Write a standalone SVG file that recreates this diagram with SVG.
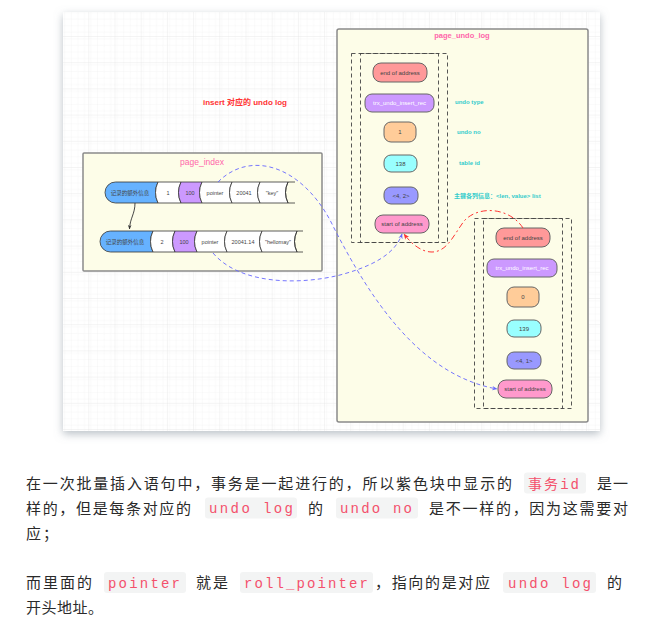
<svg xmlns="http://www.w3.org/2000/svg" width="665" height="623" viewBox="0 0 665 623">
<style>
.sans{font-family:"Liberation Sans","Noto Sans CJK SC",sans-serif}
.nd{stroke:#666;stroke-width:1}
.nt{font-family:"Liberation Sans","Noto Sans CJK SC",sans-serif;font-size:6px;text-anchor:middle;dominant-baseline:central;fill:#444}
.wt{fill:#fff}
.lbl{font-family:"Liberation Sans","Noto Sans CJK SC",sans-serif;font-size:6px;font-weight:bold;fill:#33cccc;dominant-baseline:central}
.cell{fill:#fff;stroke:#333;stroke-width:0.8}
.ct{font-family:"Liberation Sans","Noto Sans CJK SC",sans-serif;font-size:5.5px;text-anchor:middle;dominant-baseline:central;fill:#444}
.dash{fill:none;stroke:#444;stroke-width:0.9;stroke-dasharray:4 3}
.body{font-family:"Noto Sans CJK SC","Liberation Sans",sans-serif;font-size:15px;fill:#2a2a2a}
.code{font-family:"Liberation Mono","DejaVu Sans Mono",monospace;font-size:14px;fill:#f4516c}
.cbg{fill:#f3f4f4}
</style>
<defs>
<pattern id="gmin" width="6.55" height="6.55" patternUnits="userSpaceOnUse" x="88.3" y="36">
<path d="M6.55 0V6.55M0 6.55H6.55" fill="none" stroke="#f0f0f0" stroke-width="0.6"/>
</pattern>
<pattern id="gmaj" width="26.2" height="26.2" patternUnits="userSpaceOnUse" x="88.3" y="36">
<rect width="26.2" height="26.2" fill="url(#gmin)"/>
<path d="M0 0V26.2M0 0H26.2" fill="none" stroke="#e3e3e3" stroke-width="0.8"/>
</pattern>
<filter id="sh" x="-10%" y="-10%" width="120%" height="125%">
<feDropShadow dx="0" dy="3" stdDeviation="4" flood-color="#7f8c99" flood-opacity="0.55"/>
</filter>
<marker id="ab" viewBox="0 0 10 10" refX="9" refY="5" markerWidth="6" markerHeight="6" orient="auto">
<path d="M0 1L10 5L0 9L3 5Z" fill="#6666ff"/>
</marker>
<marker id="ar" viewBox="0 0 10 10" refX="9" refY="5" markerWidth="6" markerHeight="6" orient="auto">
<path d="M0 1L10 5L0 9L3 5Z" fill="#ff3333"/>
</marker>
<marker id="ak" viewBox="0 0 10 10" refX="9" refY="5" markerWidth="5" markerHeight="5" orient="auto">
<path d="M0 1L10 5L0 9L3 5Z" fill="#333"/>
</marker>
</defs>
<rect width="665" height="623" fill="#fff"/>
<rect x="63" y="12" width="537" height="419" fill="#fff" filter="url(#sh)"/>
<rect x="63" y="12" width="537" height="419" fill="url(#gmaj)"/>

<text class="sans" x="245" y="102" font-size="8" font-weight="bold" fill="#ff3333" text-anchor="middle" dominant-baseline="central">insert 对应的 undo log</text>

<g id="page_undo_log">
<rect x="337" y="29" width="251" height="393" rx="2" fill="#fdfde8" stroke="#8a8a8a" stroke-width="1.5"/>
<text class="sans" x="462" y="35" font-size="7.5" font-weight="bold" fill="#ff66aa" text-anchor="middle" dominant-baseline="central">page_undo_log</text>
</g>

<g id="page_index">
<rect x="83" y="153" width="239" height="118" rx="1" fill="#fdfde8" stroke="#8a8a8a" stroke-width="1.5"/>
<text class="sans" x="202" y="162" font-size="8.5" fill="#ff66aa" text-anchor="middle" dominant-baseline="central">page_index</text>
</g>

<g id="undo_group_1">
<rect class="dash" x="351.5" y="53.5" width="96" height="189"/>
<rect class="dash" x="360.5" y="53.5" width="78" height="189"/>
</g>
<g id="undo_group_2">
<rect class="dash" x="474.5" y="218.5" width="97" height="190"/>
<rect class="dash" x="483.5" y="218.5" width="79" height="190"/>
</g>

<g id="end1"><rect class="nd" x="373" y="63" width="54" height="19" rx="8" fill="#ff9999"/><text class="nt" x="400" y="72.5">end of address</text></g>
<g id="trx1"><rect class="nd" x="365" y="94" width="69" height="18" rx="7" fill="#cc99ff"/><text class="nt wt" x="399.5" y="103">trx_undo_insert_rec</text></g>
<g id="no1"><rect class="nd" x="384" y="122" width="32" height="20" rx="7" fill="#ffcc99"/><text class="nt" x="400" y="132" fill="#999">1</text></g>
<g id="tid1"><rect class="nd" x="384" y="155" width="33" height="17" rx="7" fill="#99ffff"/><text class="nt" x="400.5" y="163.5">138</text></g>
<g id="key1"><rect class="nd" x="384" y="187" width="34" height="17" rx="7" fill="#9999ff"/><text class="nt" x="401" y="195.5">&lt;4, 2&gt;</text></g>
<g id="start1"><rect class="nd" x="375" y="215" width="54" height="18" rx="8" fill="#ff99cc"/><text class="nt" x="402" y="224">start of address</text></g>

<g id="end2"><rect class="nd" x="496" y="228" width="54" height="19" rx="8" fill="#ff9999"/><text class="nt" x="523" y="237.5">end of address</text></g>
<g id="trx2"><rect class="nd" x="487" y="259" width="70" height="18" rx="7" fill="#cc99ff"/><text class="nt wt" x="522" y="268">trx_undo_insert_rec</text></g>
<g id="no2"><rect class="nd" x="507" y="287" width="32" height="20" rx="7" fill="#ffcc99"/><text class="nt" x="523" y="297" fill="#999">0</text></g>
<g id="tid2"><rect class="nd" x="507" y="320" width="34" height="17" rx="7" fill="#99ffff"/><text class="nt" x="524" y="328.5">139</text></g>
<g id="key2"><rect class="nd" x="507" y="352" width="34" height="17" rx="7" fill="#9999ff"/><text class="nt" x="524" y="360.5">&lt;4, 1&gt;</text></g>
<g id="start2"><rect class="nd" x="498" y="380" width="54" height="18" rx="8" fill="#ff99cc"/><text class="nt" x="525" y="389">start of address</text></g>

<g id="labels">
<text class="lbl" x="455" y="102">undo type</text>
<text class="lbl" x="457" y="132">undo no</text>
<text class="lbl" x="459" y="163">table id</text>
<text class="lbl" x="454" y="195.5">主键各列信息：&lt;len, value&gt; list</text>
</g>

<g id="record1">
<path d="M115.5 182L158 182Q153 192.5 158 203L115.5 203A10.5 10.5 0 0 1 115.5 182Z" fill="#66b2ff" stroke="#333" stroke-width="0.8"/>
<path class="cell" d="M158 182L181 182Q176 192.5 181 203L158 203Q153 192.5 158 182Z"/>
<path class="cell" d="M181 182L202 182Q197 192.5 202 203L181 203Q176 192.5 181 182Z" style="fill:#cc99ff"/>
<path class="cell" d="M202 182L232 182Q227 192.5 232 203L202 203Q197 192.5 202 182Z"/>
<path class="cell" d="M232 182L260 182Q255 192.5 260 203L232 203Q227 192.5 232 182Z"/>
<path class="cell" d="M260 182L288 182Q283 192.5 288 203L260 203Q255 192.5 260 182Z"/>
<path d="M288 182L295 182M288 203L295 203M288 182Q283 192.5 288 203" fill="none" stroke="#333" stroke-width="0.8"/>
<text class="ct" x="130" y="192.5">记录的额外信息</text>
<text class="ct" x="168" y="192.5">1</text>
<text class="ct" x="190" y="192.5" fill="#fff">100</text>
<text class="ct" x="215" y="192.5">pointer</text>
<text class="ct" x="244" y="192.5">20041</text>
<text class="ct" x="272" y="192.5">"key"</text>
</g>

<g id="record2">
<path d="M110.5 231L153 231Q148 241.5 153 252L110.5 252A10.5 10.5 0 0 1 110.5 231Z" fill="#66b2ff" stroke="#333" stroke-width="0.8"/>
<path class="cell" d="M153 231L175 231Q170 241.5 175 252L153 252Q148 241.5 153 231Z"/>
<path class="cell" d="M175 231L197 231Q192 241.5 197 252L175 252Q170 241.5 175 231Z" style="fill:#cc99ff"/>
<path class="cell" d="M197 231L227 231Q222 241.5 227 252L197 252Q192 241.5 197 231Z"/>
<path class="cell" d="M227 231L262 231Q257 241.5 262 252L227 252Q222 241.5 227 231Z"/>
<path class="cell" d="M262 231L297 231Q292 241.5 297 252L262 252Q257 241.5 262 231Z"/>
<path d="M297 231L303 231M297 252L303 252M297 231Q292 241.5 297 252" fill="none" stroke="#333" stroke-width="0.8"/>
<text class="ct" x="125" y="241.5">记录的额外信息</text>
<text class="ct" x="162" y="241.5">2</text>
<text class="ct" x="184" y="241.5" fill="#fff">100</text>
<text class="ct" x="210" y="241.5">pointer</text>
<text class="ct" x="243" y="241.5">20041.14</text>
<text class="ct" x="278" y="241.5">"hellomay"</text>
</g>

<g id="connectors">
<path d="M135 203C135 214 130 218 129.5 229" fill="none" stroke="#333" stroke-width="0.9" marker-end="url(#ak)"/>
<path d="M218 182C250 150 300 165 330 220C370 300 420 375 497 389" fill="none" stroke="#6666ff" stroke-width="0.9" stroke-dasharray="4 3" marker-end="url(#ab)"/>
<path d="M213 253C240 285 300 285 340 275C370 267 395 255 402 234" fill="none" stroke="#6666ff" stroke-width="0.9" stroke-dasharray="4 3" marker-end="url(#ab)"/>
<path d="M523 228C510 208 480 205 465 220C455 232 448 252 432 252C420 252 410 242 404 234" fill="none" stroke="#ff3333" stroke-width="1" stroke-dasharray="6 3 2 3" marker-end="url(#ar)"/>
</g>

<g id="paragraph">
<rect class="cbg" x="524" y="472.5" width="62" height="21" rx="3"/>
<rect class="cbg" x="205" y="497.5" width="92" height="21" rx="3"/>
<rect class="cbg" x="336" y="497.5" width="82" height="21" rx="3"/>
<rect class="cbg" x="104" y="572" width="82" height="21" rx="3"/>
<rect class="cbg" x="240" y="572" width="133" height="21" rx="3"/>
<rect class="cbg" x="503" y="572" width="93" height="21" rx="3"/>

<text class="body" x="26" y="488.5" textLength="486" lengthAdjust="spacing">在一次批量插入语句中，事务是一起进行的，所以紫色块中显示的</text>
<text class="body code" x="528" y="488.5" textLength="51" lengthAdjust="spacing" style="font-family:'Liberation Mono','Noto Sans CJK SC',monospace">事务id</text>
<text class="body" x="597" y="488.5" textLength="31" lengthAdjust="spacing">是一</text>

<text class="body" x="26" y="513.5" textLength="165" lengthAdjust="spacing">样的，但是每条对应的</text>
<text class="code" x="209" y="513" textLength="84" lengthAdjust="spacing">undo log</text>
<text class="body" x="308" y="513.5">的</text>
<text class="code" x="340" y="513" textLength="72" lengthAdjust="spacing">undo no</text>
<text class="body" x="429" y="513.5" textLength="199" lengthAdjust="spacing">是不一样的，因为这需要对</text>

<text class="body" x="26" y="538.5" letter-spacing="2">应；</text>

<text class="body" x="26" y="588" textLength="66" lengthAdjust="spacing">而里面的</text>
<text class="code" x="108" y="587.5" textLength="72" lengthAdjust="spacing">pointer</text>
<text class="body" x="196" y="588" textLength="32" lengthAdjust="spacing">就是</text>
<text class="code" x="244" y="587.5" textLength="124" lengthAdjust="spacing">roll_pointer</text>
<text class="body" x="375" y="588" textLength="115" lengthAdjust="spacing">，指向的是对应</text>
<text class="code" x="508" y="587.5" textLength="83" lengthAdjust="spacing">undo log</text>
<text class="body" x="607" y="588">的</text>

<text class="body" x="26" y="613" textLength="77" lengthAdjust="spacing">开头地址。</text>
</g>
</svg>
